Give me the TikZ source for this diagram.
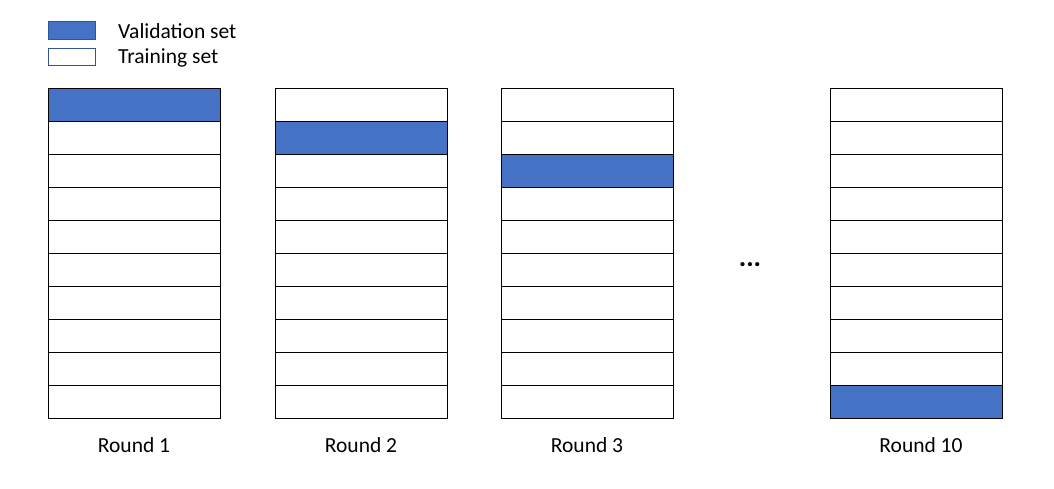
\documentclass[tikz,border=0pt]{standalone}
\usepackage{fontspec}
\setmainfont{Carlito}
\definecolor{valblue}{RGB}{68,114,196}
\definecolor{legblue}{RGB}{47,85,151}

\begin{document}
\begin{tikzpicture}[
    x=1pt, y=-1pt,
    font=\fontsize{21.5}{24}\selectfont,
    % Cells of one fold column
    cell/.style={
        draw=black,
        line width=1pt,
        fill=white,
        anchor=north west,
        inner sep=0pt,
        minimum width=172pt,
        minimum height=33pt
    },
    valcell/.style={cell, fill=valblue},
    legbox/.style={
        draw=legblue,
        line width=0.8pt,
        anchor=north west,
        inner sep=0pt,
        minimum width=47pt,
        minimum height=17pt
    },
    legtext/.style={anchor=west, inner sep=0pt},
    roundlabel/.style={anchor=center, inner sep=0pt}
]
    \useasboundingbox (0,0) rectangle (1054,489);

    % Legend
    \node[legbox, fill=valblue, minimum height=18pt] (legval) at (48,21) {};
    \node[legbox, fill=white] (legtrain) at (48,48) {};
    \node[legtext] (legvaltext) at (118,31) {Validation set};
    \node[legtext] (legtraintext) at (118,58) {Training set};

    % Columns: left edge / round number / validation row / label shift
    \foreach \cx/\rnd/\vrow/\lx in {48/1/1/0, 275/2/2/0, 501/3/3/0, 830/10/10/5} {
        \foreach \r in {1,...,10} {
            \ifnum\r=\vrow
                \node[valcell] (c\rnd-\r) at (\cx,{88+33*(\r-1)}) {};
            \else
                \node[cell] (c\rnd-\r) at (\cx,{88+33*(\r-1)}) {};
            \fi
        }
        \node[roundlabel] (round\rnd) at (\cx+86+\lx,445) {Round \rnd};
    }

    \node[font=\fontsize{28}{30}\selectfont\bfseries] (dots) at (750,265) {...};
\end{tikzpicture}
\end{document}
